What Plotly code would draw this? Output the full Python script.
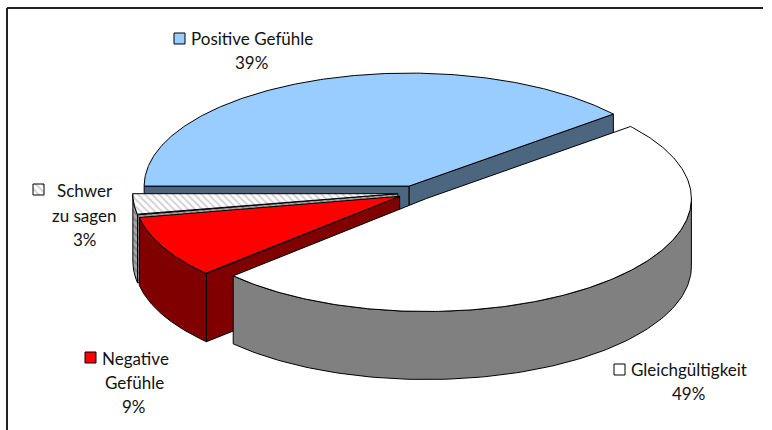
import numpy as np
import plotly.graph_objects as go

# ---- data -------------------------------------------------------------
categories = ["Positive Gefühle", "Gleichgültigkeit", "Negative Gefühle", "Schwer zu sagen"]
values = [39, 49, 9, 3]
label_lines = [["Positive Gefühle"], ["Gleichgültigkeit"], ["Negative", "Gefühle"], ["Schwer", "zu sagen"]]

# ---- styling ----------------------------------------------------------
top_colors = ["#99CCFF", "#FFFFFF", "#FF0000", "#FFFFFF"]
side_colors = ["#4C667F", "#808080", "#800000", "#808080"]
hatched = [False, False, False, True]

W, H = 772, 430
CX, CY = 415, 193          # pie centre (pixels)
RX, RY = 265, 113          # ellipse radii of the tilted disc
DEPTH = 68                 # thickness of the disc
EXPLODE = 0.065            # radial offset of every slice
START = 270                # first slice starts at 9 o'clock, clockwise

FONT = dict(family="Lato, Open Sans, sans-serif", size=17, color="#111111")


def rim(cx, cy, th, dy=0.0):
    t = np.radians(th)
    return cx + RX * np.sin(t), cy - RY * np.cos(t) + dy


def poly_trace(xs, ys, fill, pattern=None, lw=1):
    kw = dict(x=list(xs) + [xs[0]], y=list(ys) + [ys[0]], mode="lines", fill="toself",
              fillcolor=fill, line=dict(color="black", width=lw), hoverinfo="skip",
              showlegend=False)
    if pattern is not None:
        kw["fillpattern"] = pattern
    return go.Scatter(**kw)


def pattern_for(i, side=False):
    if not hatched[i]:
        return None
    if side:
        return dict(shape="\\", fgcolor="#5a5a5a", bgcolor="#a8a8a8", size=5, solidity=0.35)
    return dict(shape="\\", fgcolor="#a0a0a0", bgcolor="#ffffff", size=5, solidity=0.35)


# ---- slice geometry ---------------------------------------------------
total = float(sum(values))
slices = []
a = START
for i, v in enumerate(values):
    span = 360.0 * v / total
    a0, a1 = a, a + span
    bis = np.radians((a0 + a1) / 2)
    cx = CX + EXPLODE * RX * np.sin(bis)
    cy = CY - EXPLODE * RY * np.cos(bis)
    depth_key = cy - 0.4 * RY * np.cos(bis)
    slices.append(dict(i=i, a0=a0, a1=a1, cx=cx, cy=cy, key=depth_key))
    a = a1

fig = go.Figure()

for s in sorted(slices, key=lambda d: d["key"]):
    i, a0, a1, cx, cy = s["i"], s["a0"], s["a1"], s["cx"], s["cy"]
    fill_top, fill_side = top_colors[i], side_colors[i]

    # radial faces that turn towards the viewer
    for edge, visible in ((a0, np.sin(np.radians(a0)) < 0), (a1, np.sin(np.radians(a1)) > 0)):
        if visible:
            px, py = rim(cx, cy, edge)
            fig.add_trace(poly_trace([cx, px, px, cx], [cy, py, py + DEPTH, cy + DEPTH],
                                     fill_side, pattern_for(i, True)))

    # curved outer wall (front half only)
    for lo_v, hi_v in ((90, 270), (450, 630)):
        lo, hi = max(a0, lo_v), min(a1, hi_v)
        if hi > lo:
            th = np.linspace(lo, hi, 120)
            tx, ty = rim(cx, cy, th)
            bx, by = rim(cx, cy, th[::-1], DEPTH)
            fig.add_trace(poly_trace(np.r_[tx, bx], np.r_[ty, by], fill_side, pattern_for(i, True)))

    # top face
    th = np.linspace(a0, a1, 240)
    tx, ty = rim(cx, cy, th)
    fig.add_trace(poly_trace(np.r_[cx, tx], np.r_[cy, ty], fill_top, pattern_for(i)))

# ---- data labels with legend keys ------------------------------------
# key box (x0, y0, size), first-line left anchor, centre x of following lines, line y positions
label_pos = {
    0: dict(key=(174, 33, 11), first=(189, 38.5), cx=251, ys=[38.5, 62.5]),
    1: dict(key=(614, 364, 11), first=(629, 369.5), cx=688.5, ys=[369.5, 393]),
    2: dict(key=(85, 352, 11), first=(100, 358), cx=134, ys=[358, 382, 406.5]),
    3: dict(key=(33, 184, 11), first=(55, 190), cx=84.5, ys=[190, 215.5, 239]),
}

annotations = []
for i, cat in enumerate(categories):
    p = label_pos[i]
    kx, ky, ks = p["key"]
    fig.add_trace(poly_trace([kx, kx + ks, kx + ks, kx], [ky, ky, ky + ks, ky + ks],
                             top_colors[i], pattern_for(i)))
    lines = label_lines[i] + [f"{values[i]}%"]
    for j, (txt, y) in enumerate(zip(lines, p["ys"])):
        if j == 0:
            annotations.append(dict(x=p["first"][0], y=y, text=txt, xanchor="left",
                                    yanchor="middle", showarrow=False, font=FONT))
        else:
            annotations.append(dict(x=p["cx"], y=y, text=txt, xanchor="center",
                                    yanchor="middle", showarrow=False, font=FONT))

fig.update_layout(
    width=W, height=H, autosize=False,
    margin=dict(l=0, r=0, t=0, b=0),
    paper_bgcolor="white", plot_bgcolor="white",
    showlegend=False,
    xaxis=dict(range=[0, W], visible=False, fixedrange=True),
    yaxis=dict(range=[H, 0], visible=False, fixedrange=True),
    annotations=annotations,
    shapes=[
        dict(type="line", xref="x", yref="y", x0=7, y0=8, x1=7, y1=H, line=dict(color="#222", width=2)),
        dict(type="line", xref="x", yref="y", x0=7, y0=8, x1=763, y1=8, line=dict(color="#222", width=2)),
    ],
)

fig.write_html("out.html")
